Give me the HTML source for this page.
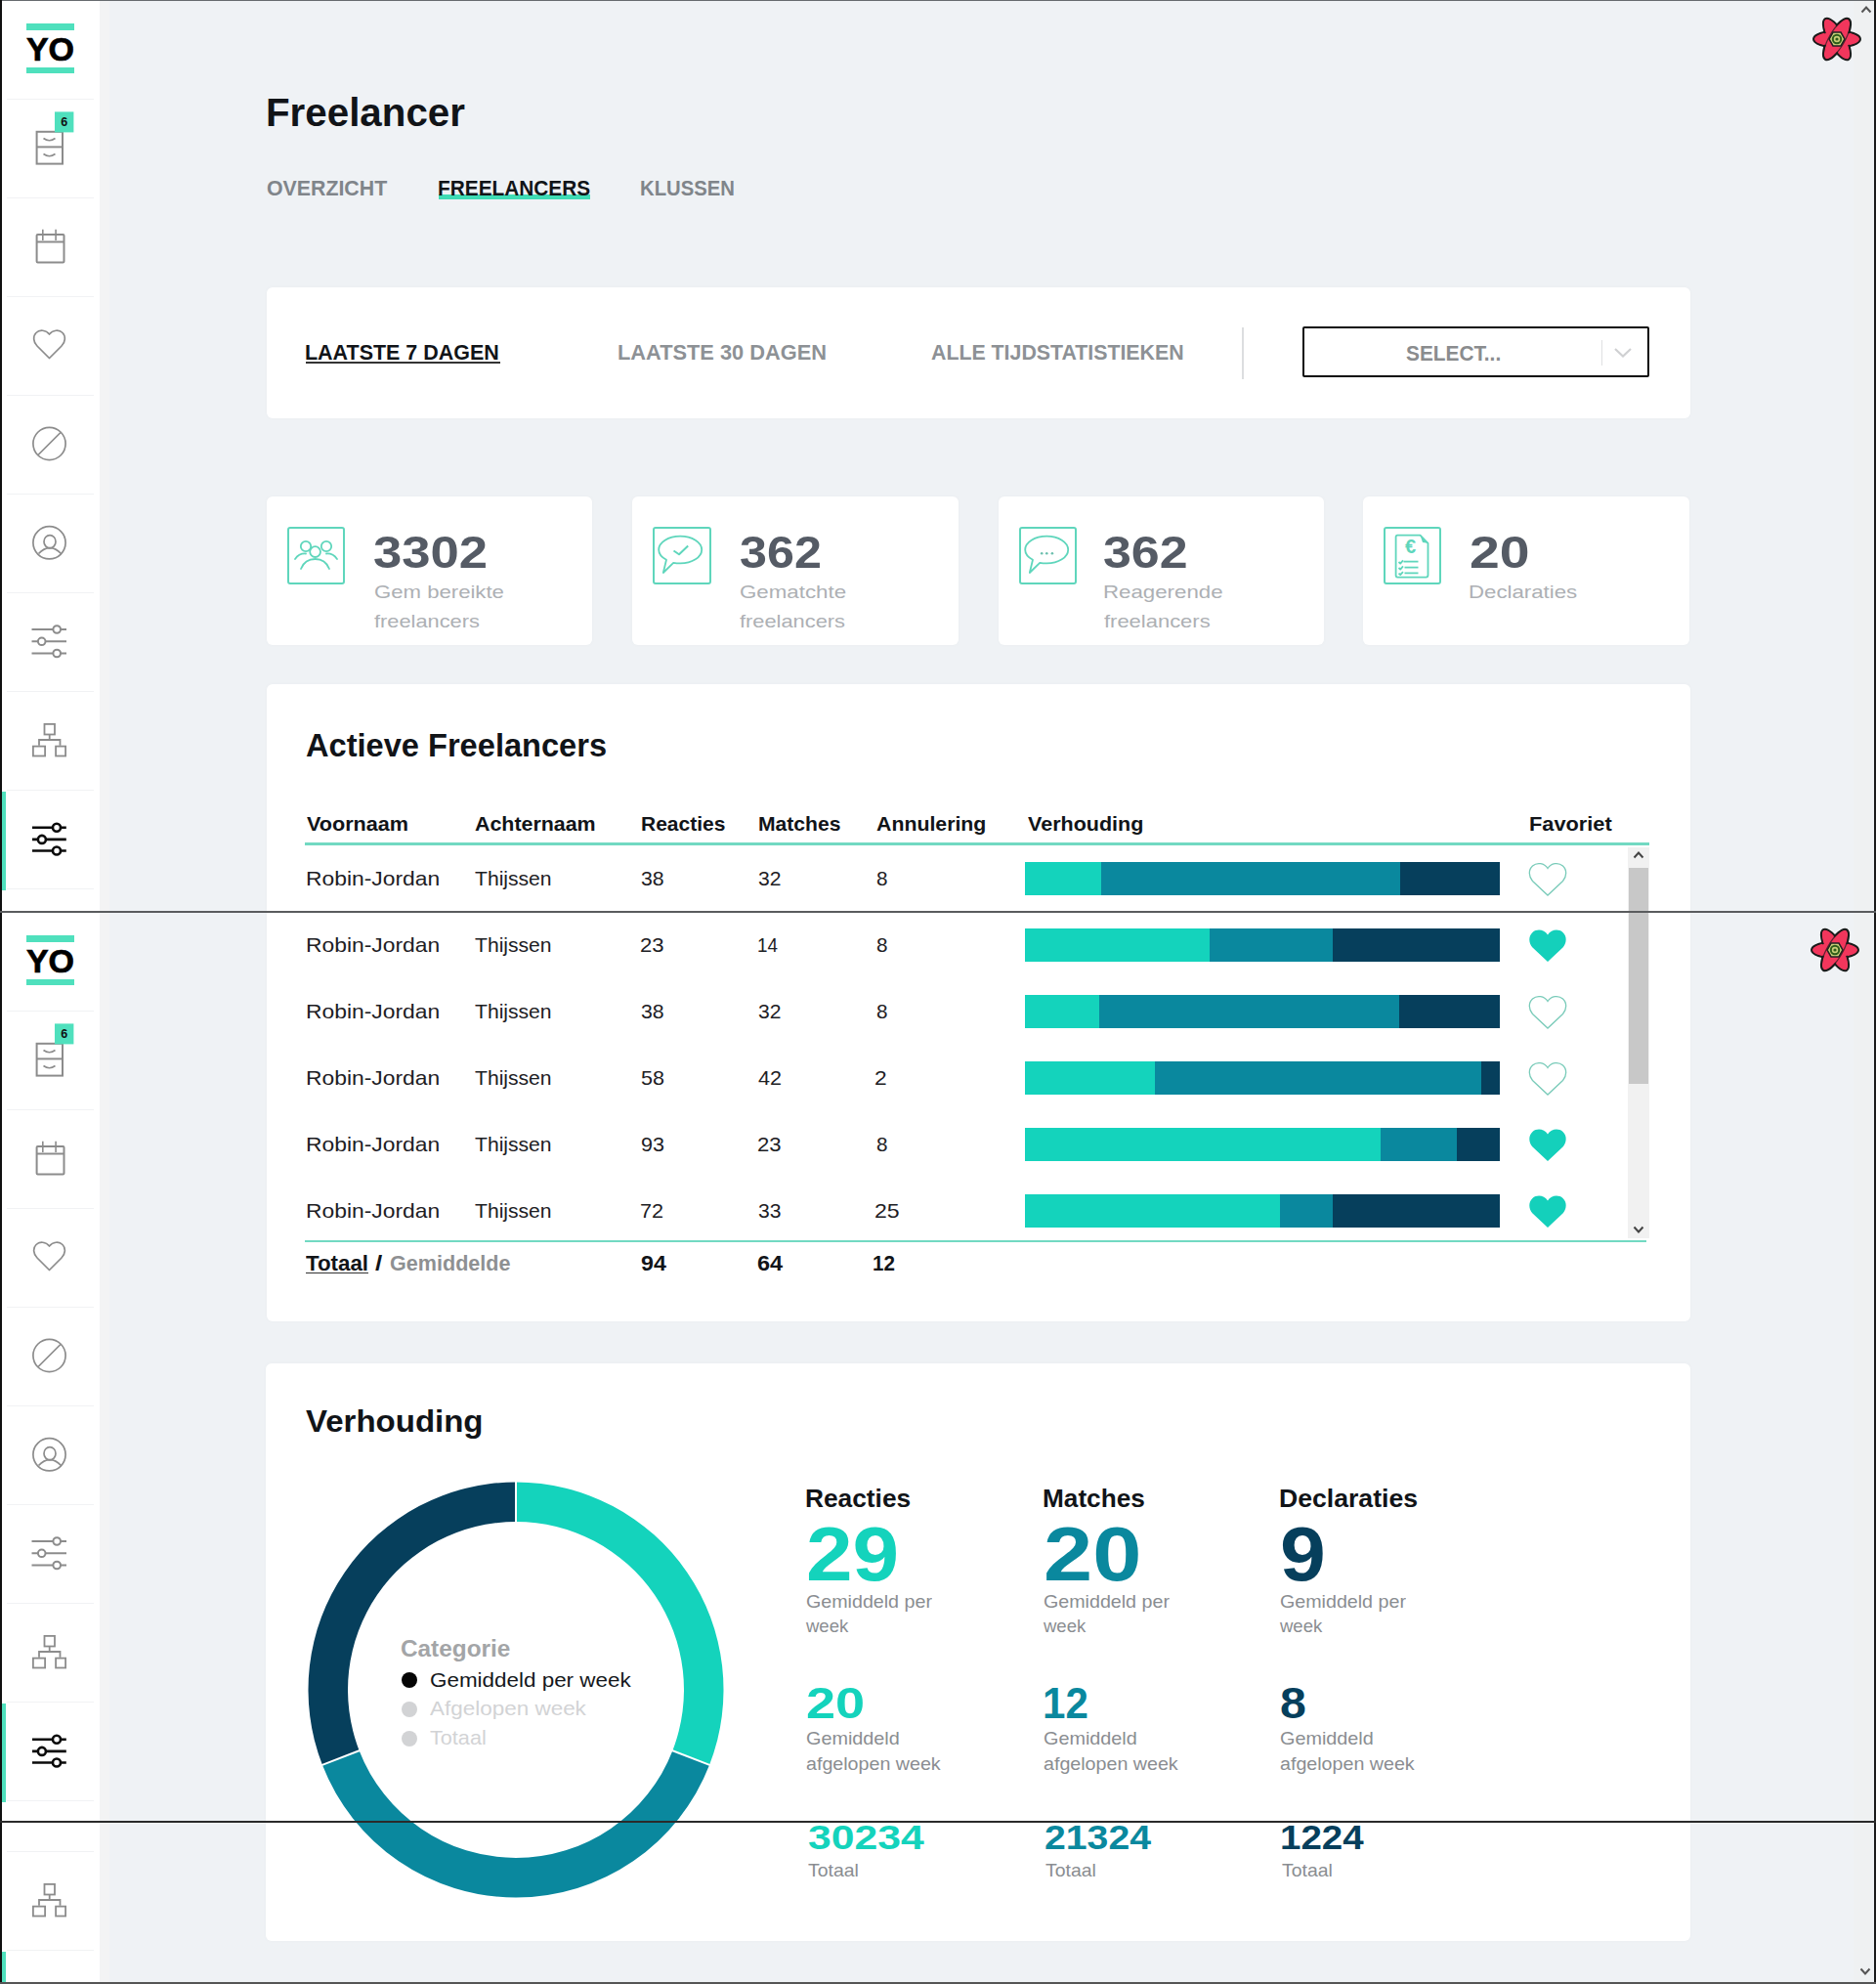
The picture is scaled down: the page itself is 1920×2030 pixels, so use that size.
<!DOCTYPE html>
<html><head><meta charset="utf-8"><style>
html,body{margin:0;padding:0}
body{width:1920px;height:2030px;position:relative;overflow:hidden;background:#eff2f5;font-family:'Liberation Sans', sans-serif}
.t{position:absolute;white-space:nowrap;line-height:1;transform-origin:0 0;font-family:'Liberation Sans', sans-serif}
.sb{position:absolute;left:0;top:0;width:101.5px;height:940px;background:#fff}
.card{position:absolute;background:#fff;border-radius:6px;box-shadow:0 0 5px rgba(0,0,0,0.025)}
.ln{position:absolute}
</style></head><body>
<div class="card" style="left:272.5px;top:293.5px;width:1457px;height:134px"></div>
<div class="card" style="left:272.6px;top:507.8px;width:333.7px;height:152px"></div>
<div class="card" style="left:647.4px;top:507.8px;width:333.7px;height:152px"></div>
<div class="card" style="left:1021.7px;top:507.8px;width:333.7px;height:152px"></div>
<div class="card" style="left:1395.3px;top:507.8px;width:333.7px;height:152px"></div>
<div class="card" style="left:272.5px;top:700px;width:1457px;height:651.6px"></div>
<div class="card" style="left:272px;top:1394.8px;width:1457.5px;height:591.2px"></div>
<div class="ln" style="left:449px;top:199px;width:155px;height:5px;background:#3fdcb5"></div>
<div class="ln" style="left:313px;top:370px;width:199px;height:1.6px;background:#333"></div>
<div class="ln" style="left:1271px;top:334.6px;width:2px;height:53px;background:#dcdee0"></div>
<div class="ln" style="left:1333.2px;top:334.2px;width:350.4px;height:47.8px;border:2.4px solid #0d0d0d;border-radius:2px;background:#fff"></div>
<div class="ln" style="left:1638.5px;top:348px;width:1px;height:25.6px;background:#dfe0e2"></div>
<svg style="position:absolute;left:1650px;top:354px" width="22" height="14" viewBox="0 0 22 14"><path d="M3 3 L11 10.5 L19 3" fill="none" stroke="#cfd0d2" stroke-width="2.2"/></svg>
<div style="position:absolute;left:293.6px;top:539.3px;width:55.2px;height:55.2px;border:2px solid #5fd6bc;border-radius:3px"></div>
<div style="position:absolute;left:668.4px;top:539.3px;width:55.2px;height:55.2px;border:2px solid #5fd6bc;border-radius:3px"></div>
<div style="position:absolute;left:1042.7px;top:539.3px;width:55.2px;height:55.2px;border:2px solid #5fd6bc;border-radius:3px"></div>
<div style="position:absolute;left:1416.3px;top:539.3px;width:55.2px;height:55.2px;border:2px solid #5fd6bc;border-radius:3px"></div>
<svg style="position:absolute;left:293.6px;top:539.3px" width="59.2" height="59.2" viewBox="0 0 59.2 59.2"><g fill="none" stroke="#5fd6bc" stroke-width="1.8" stroke-linecap="round">
<circle cx="19" cy="20" r="5.2"/><circle cx="40" cy="20" r="5.2"/><circle cx="28.6" cy="25.6" r="5.4"/>
<path d="M8 33 Q12 27 19 27.5"/><path d="M51 33 Q47 27 40 27.5"/>
<path d="M14 43 Q18 33 28.6 33 Q39 33 43 43"/></g></svg>
<svg style="position:absolute;left:668.4px;top:539.3px" width="59.2" height="59.2" viewBox="0 0 59.2 59.2"><g fill="none" stroke="#5fd6bc" stroke-width="1.8" stroke-linejoin="round"><path d="M28.2 9.6 C40.4 9.6 50.2 15.8 50.2 23.5 C50.2 31.2 40.4 37.4 28.2 37.4 C25.8 37.4 23.4 37.2 21.2 36.8 L10.8 47 L14 33.8 C9.3 31.3 6.2 27.6 6.2 23.5 C6.2 15.8 16 9.6 28.2 9.6 Z"/><path d="M21.5 24.5 L27 28.3 L36.2 19.5" stroke-width="2"/></g></svg>
<svg style="position:absolute;left:1042.7px;top:539.3px" width="59.2" height="59.2" viewBox="0 0 59.2 59.2"><g fill="none" stroke="#5fd6bc" stroke-width="1.8" stroke-linejoin="round"><path d="M28.2 9.6 C40.4 9.6 50.2 15.8 50.2 23.5 C50.2 31.2 40.4 37.4 28.2 37.4 C25.8 37.4 23.4 37.2 21.2 36.8 L10.8 47 L14 33.8 C9.3 31.3 6.2 27.6 6.2 23.5 C6.2 15.8 16 9.6 28.2 9.6 Z"/></g><g fill="#6cbfae"><circle cx="23.2" cy="27.2" r="1.3"/><circle cx="28.3" cy="27.2" r="1.3"/><circle cx="33.9" cy="27.2" r="1.3"/></g></svg>
<svg style="position:absolute;left:1416.3px;top:539.3px" width="59.2" height="59.2" viewBox="0 0 59.2 59.2"><g fill="none" stroke="#5fd6bc" stroke-width="1.8" stroke-linejoin="round">
<path d="M14.3 8.6 H37.5 L45.5 16.8 V49.6 Q45.5 51.6 43.5 51.6 H14.3 Q12.6 51.6 12.6 49.6 V10.6 Q12.6 8.6 14.3 8.6 Z"/>
<line x1="20.5" y1="35.6" x2="35.5" y2="35.6"/><line x1="21.5" y1="41.6" x2="35.5" y2="41.6"/><line x1="21.5" y1="47.4" x2="35.5" y2="47.4"/>
<path d="M15.5 36 L17.2 37.6 L20 34.4"/><path d="M15.5 42 L17.2 43.6 L20 40.4"/><path d="M15.5 47.6 L17.2 49 L20 46.2"/></g>
<path d="M37.5 8.6 L45.5 16.8 L40 16 Z" fill="#5fd6bc"/>
<text x="27.6" y="27.2" font-family="Liberation Sans" font-weight="bold" font-size="20" text-anchor="middle" fill="#5fd6bc">€</text></svg><div class="ln" style="left:312px;top:862.4px;width:1375.5px;height:2.4px;background:#72d9c2"></div>
<div class="ln" style="left:312px;top:1269px;width:1373px;height:1.8px;background:#72d9c2"></div>
<div class="ln" style="left:313px;top:1301.5px;width:64px;height:1.2px;background:#333"></div>
<div style="position:absolute;left:1048.8px;top:882px;width:78.5px;height:34px;background:#14d3bc"></div>
<div style="position:absolute;left:1127.3px;top:882px;width:305.7px;height:34px;background:#0a889e"></div>
<div style="position:absolute;left:1433.0px;top:882px;width:102.0px;height:34px;background:#063f5c"></div>
<svg style="position:absolute;left:1564px;top:882px" width="40" height="35" viewBox="0 0 40 35"><path d="M20 6.5 C16.5 1 9 0 4.5 4 C0 8 0.5 15 4.5 19.5 L20 34 L35.5 19.5 C39.5 15 40 8 35.5 4 C31 0 23.5 1 20 6.5 Z" fill="none" stroke="#79cbb9" stroke-width="1.3"/></svg>
<div style="position:absolute;left:1048.8px;top:950px;width:188.9px;height:34px;background:#14d3bc"></div>
<div style="position:absolute;left:1237.7px;top:950px;width:126.5px;height:34px;background:#0a889e"></div>
<div style="position:absolute;left:1364.2px;top:950px;width:170.8px;height:34px;background:#063f5c"></div>
<svg style="position:absolute;left:1564px;top:950px" width="40" height="35" viewBox="0 0 40 35"><path d="M20 6.5 C16.5 1 9 0 4.5 4 C0 8 0.5 15 4.5 19.5 L20 34 L35.5 19.5 C39.5 15 40 8 35.5 4 C31 0 23.5 1 20 6.5 Z" fill="#14d0bb"/></svg>
<div style="position:absolute;left:1048.8px;top:1018px;width:76.2px;height:34px;background:#14d3bc"></div>
<div style="position:absolute;left:1125.0px;top:1018px;width:306.6px;height:34px;background:#0a889e"></div>
<div style="position:absolute;left:1431.6px;top:1018px;width:103.4px;height:34px;background:#063f5c"></div>
<svg style="position:absolute;left:1564px;top:1018px" width="40" height="35" viewBox="0 0 40 35"><path d="M20 6.5 C16.5 1 9 0 4.5 4 C0 8 0.5 15 4.5 19.5 L20 34 L35.5 19.5 C39.5 15 40 8 35.5 4 C31 0 23.5 1 20 6.5 Z" fill="none" stroke="#79cbb9" stroke-width="1.3"/></svg>
<div style="position:absolute;left:1048.8px;top:1086px;width:133.4px;height:34px;background:#14d3bc"></div>
<div style="position:absolute;left:1182.2px;top:1086px;width:334.2px;height:34px;background:#0a889e"></div>
<div style="position:absolute;left:1516.4px;top:1086px;width:18.6px;height:34px;background:#063f5c"></div>
<svg style="position:absolute;left:1564px;top:1086px" width="40" height="35" viewBox="0 0 40 35"><path d="M20 6.5 C16.5 1 9 0 4.5 4 C0 8 0.5 15 4.5 19.5 L20 34 L35.5 19.5 C39.5 15 40 8 35.5 4 C31 0 23.5 1 20 6.5 Z" fill="none" stroke="#79cbb9" stroke-width="1.3"/></svg>
<div style="position:absolute;left:1048.8px;top:1154px;width:364.2px;height:34px;background:#14d3bc"></div>
<div style="position:absolute;left:1413.0px;top:1154px;width:78.4px;height:34px;background:#0a889e"></div>
<div style="position:absolute;left:1491.4px;top:1154px;width:43.6px;height:34px;background:#063f5c"></div>
<svg style="position:absolute;left:1564px;top:1154px" width="40" height="35" viewBox="0 0 40 35"><path d="M20 6.5 C16.5 1 9 0 4.5 4 C0 8 0.5 15 4.5 19.5 L20 34 L35.5 19.5 C39.5 15 40 8 35.5 4 C31 0 23.5 1 20 6.5 Z" fill="#14d0bb"/></svg>
<div style="position:absolute;left:1048.8px;top:1222px;width:261.4px;height:34px;background:#14d3bc"></div>
<div style="position:absolute;left:1310.2px;top:1222px;width:54.0px;height:34px;background:#0a889e"></div>
<div style="position:absolute;left:1364.2px;top:1222px;width:170.8px;height:34px;background:#063f5c"></div>
<svg style="position:absolute;left:1564px;top:1222px" width="40" height="35" viewBox="0 0 40 35"><path d="M20 6.5 C16.5 1 9 0 4.5 4 C0 8 0.5 15 4.5 19.5 L20 34 L35.5 19.5 C39.5 15 40 8 35.5 4 C31 0 23.5 1 20 6.5 Z" fill="#14d0bb"/></svg><div class="ln" style="left:1666px;top:867px;width:21.5px;height:400px;background:#f1f1f1"></div>
<div class="ln" style="left:1667px;top:887.5px;width:20px;height:221px;background:#c8c8c8"></div>
<svg style="position:absolute;left:1670px;top:869px" width="14" height="12" viewBox="0 0 14 12"><path d="M2.5 8.5 L7 3.5 L11.5 8.5" fill="none" stroke="#444" stroke-width="2"/></svg>
<svg style="position:absolute;left:1670px;top:1252px" width="14" height="12" viewBox="0 0 14 12"><path d="M2.5 3.5 L7 8.5 L11.5 3.5" fill="none" stroke="#444" stroke-width="2"/></svg>
<svg style="position:absolute;left:307.7px;top:1508.6px" width="440" height="440" viewBox="-220 -220 440 440"><path d="M0.00 -212.50 A212.5 212.5 0 0 1 198.12 76.85 L160.36 62.20 A172.0 172.0 0 0 0 0.00 -172.00 Z" fill="#14d3bc"/><path d="M198.12 76.85 A212.5 212.5 0 0 1 -198.12 76.85 L-160.36 62.20 A172.0 172.0 0 0 0 160.36 62.20 Z" fill="#0a889e"/><path d="M-198.12 76.85 A212.5 212.5 0 0 1 -0.00 -212.50 L-0.00 -172.00 A172.0 172.0 0 0 0 -160.36 62.20 Z" fill="#063f5c"/><line x1="0.00" y1="-168.56" x2="0.00" y2="-216.75" stroke="#fff" stroke-width="2"/><line x1="157.15" y1="60.96" x2="202.08" y2="78.38" stroke="#fff" stroke-width="2"/><line x1="-157.15" y1="60.96" x2="-202.08" y2="78.38" stroke="#fff" stroke-width="2"/></svg><div style="position:absolute;left:411px;top:1711.0px;width:16px;height:16px;border-radius:50%;background:#050505"></div><div style="position:absolute;left:411px;top:1741.0px;width:16px;height:16px;border-radius:50%;background:#d2d3d5"></div><div style="position:absolute;left:411px;top:1770.8px;width:16px;height:16px;border-radius:50%;background:#d2d3d5"></div><span class="t" style="left:271.99px;top:94.60px;font-size:40.116px;font-weight:bold;color:#111418;transform:scaleX(1.0050);">Freelancer</span>
<span class="t" style="left:273.40px;top:182.00px;font-size:22.093px;font-weight:bold;color:#80858a;transform:scaleX(0.9656);">OVERZICHT</span>
<span class="t" style="left:448.06px;top:182.00px;font-size:22.093px;font-weight:bold;color:#111418;transform:scaleX(0.9427);">FREELANCERS</span>
<span class="t" style="left:654.78px;top:182.00px;font-size:22.093px;font-weight:bold;color:#80858a;transform:scaleX(0.9183);">KLUSSEN</span>
<span class="t" style="left:312.44px;top:350.30px;font-size:22.384px;font-weight:bold;color:#111418;transform:scaleX(0.9592);">LAATSTE 7 DAGEN</span>
<span class="t" style="left:631.73px;top:350.40px;font-size:22.384px;font-weight:bold;color:#8d9195;transform:scaleX(0.9739);">LAATSTE 30 DAGEN</span>
<span class="t" style="left:952.80px;top:350.40px;font-size:22.384px;font-weight:bold;color:#8d9195;transform:scaleX(0.9528);">ALLE TIJDSTATISTIEKEN</span>
<span class="t" style="left:1439.40px;top:350.60px;font-size:22.093px;font-weight:bold;color:#8a8c8e;transform:scaleX(0.9431);">SELECT...</span>
<span class="t" style="left:382.17px;top:542.00px;font-size:46.512px;font-weight:bold;color:#555b65;transform:scaleX(1.1317);">3302</span>
<span class="t" style="left:382.80px;top:595.50px;font-size:19.186px;color:#adb0b4;transform:scaleX(1.1548);">Gem bereikte</span>
<span class="t" style="left:382.80px;top:626.00px;font-size:19.186px;color:#adb0b4;transform:scaleX(1.1368);">freelancers</span>
<span class="t" style="left:756.72px;top:542.00px;font-size:46.512px;font-weight:bold;color:#555b65;transform:scaleX(1.0803);">362</span>
<span class="t" style="left:757.30px;top:595.50px;font-size:19.186px;color:#adb0b4;transform:scaleX(1.1634);">Gematchte</span>
<span class="t" style="left:757.30px;top:626.00px;font-size:19.186px;color:#adb0b4;transform:scaleX(1.1389);">freelancers</span>
<span class="t" style="left:1129.08px;top:542.00px;font-size:46.512px;font-weight:bold;color:#555b65;transform:scaleX(1.1158);">362</span>
<span class="t" style="left:1128.54px;top:595.50px;font-size:19.186px;color:#adb0b4;transform:scaleX(1.1615);">Reagerende</span>
<span class="t" style="left:1129.70px;top:626.00px;font-size:19.186px;color:#adb0b4;transform:scaleX(1.1453);">freelancers</span>
<span class="t" style="left:1503.81px;top:542.00px;font-size:46.512px;font-weight:bold;color:#555b65;transform:scaleX(1.1898);">20</span>
<span class="t" style="left:1503.34px;top:595.50px;font-size:19.186px;color:#adb0b4;transform:scaleX(1.1589);">Declaraties</span>
<span class="t" style="left:312.69px;top:746.70px;font-size:32.413px;font-weight:bold;color:#111418;transform:scaleX(1.0059);">Actieve Freelancers</span>
<span class="t" style="left:314.00px;top:832.90px;font-size:20.640px;font-weight:bold;color:#111418;transform:scaleX(1.0475);">Voornaam</span>
<span class="t" style="left:485.60px;top:832.90px;font-size:20.640px;font-weight:bold;color:#111418;transform:scaleX(1.0370);">Achternaam</span>
<span class="t" style="left:656.18px;top:832.90px;font-size:20.640px;font-weight:bold;color:#111418;transform:scaleX(1.0179);">Reacties</span>
<span class="t" style="left:776.18px;top:832.90px;font-size:20.640px;font-weight:bold;color:#111418;transform:scaleX(1.0222);">Matches</span>
<span class="t" style="left:897.30px;top:832.90px;font-size:20.640px;font-weight:bold;color:#111418;transform:scaleX(1.0324);">Annulering</span>
<span class="t" style="left:1052.30px;top:832.90px;font-size:20.640px;font-weight:bold;color:#111418;transform:scaleX(1.0434);">Verhouding</span>
<span class="t" style="left:1564.94px;top:832.90px;font-size:20.640px;font-weight:bold;color:#111418;transform:scaleX(1.0562);">Favoriet</span>
<span class="t" style="left:312.84px;top:889.80px;font-size:19.767px;color:#1d2024;transform:scaleX(1.1564);">Robin-Jordan</span>
<span class="t" style="left:485.60px;top:889.80px;font-size:19.767px;color:#1d2024;transform:scaleX(1.0685);">Thijssen</span>
<span class="t" style="left:656.30px;top:889.80px;font-size:19.767px;color:#1d2024;transform:scaleX(1.0773);">38</span>
<span class="t" style="left:776.30px;top:889.80px;font-size:19.767px;color:#1d2024;transform:scaleX(1.0682);">32</span>
<span class="t" style="left:896.50px;top:889.80px;font-size:19.767px;color:#1d2024;transform:scaleX(1.0455);">8</span>
<span class="t" style="left:312.84px;top:957.80px;font-size:19.767px;color:#1d2024;transform:scaleX(1.1564);">Robin-Jordan</span>
<span class="t" style="left:485.60px;top:957.80px;font-size:19.767px;color:#1d2024;transform:scaleX(1.0685);">Thijssen</span>
<span class="t" style="left:655.18px;top:957.80px;font-size:19.767px;color:#1d2024;transform:scaleX(1.1190);">23</span>
<span class="t" style="left:775.35px;top:957.80px;font-size:19.767px;color:#1d2024;transform:scaleX(0.9524);">14</span>
<span class="t" style="left:896.50px;top:957.80px;font-size:19.767px;color:#1d2024;transform:scaleX(1.0455);">8</span>
<span class="t" style="left:312.84px;top:1025.80px;font-size:19.767px;color:#1d2024;transform:scaleX(1.1564);">Robin-Jordan</span>
<span class="t" style="left:485.60px;top:1025.80px;font-size:19.767px;color:#1d2024;transform:scaleX(1.0685);">Thijssen</span>
<span class="t" style="left:656.30px;top:1025.80px;font-size:19.767px;color:#1d2024;transform:scaleX(1.0773);">38</span>
<span class="t" style="left:776.30px;top:1025.80px;font-size:19.767px;color:#1d2024;transform:scaleX(1.0682);">32</span>
<span class="t" style="left:896.50px;top:1025.80px;font-size:19.767px;color:#1d2024;transform:scaleX(1.0455);">8</span>
<span class="t" style="left:312.84px;top:1093.80px;font-size:19.767px;color:#1d2024;transform:scaleX(1.1564);">Robin-Jordan</span>
<span class="t" style="left:485.60px;top:1093.80px;font-size:19.767px;color:#1d2024;transform:scaleX(1.0685);">Thijssen</span>
<span class="t" style="left:656.30px;top:1093.80px;font-size:19.767px;color:#1d2024;transform:scaleX(1.0909);">58</span>
<span class="t" style="left:776.30px;top:1093.80px;font-size:19.767px;color:#1d2024;transform:scaleX(1.0909);">42</span>
<span class="t" style="left:895.35px;top:1093.80px;font-size:19.767px;color:#1d2024;transform:scaleX(1.1500);">2</span>
<span class="t" style="left:312.84px;top:1161.80px;font-size:19.767px;color:#1d2024;transform:scaleX(1.1564);">Robin-Jordan</span>
<span class="t" style="left:485.60px;top:1161.80px;font-size:19.767px;color:#1d2024;transform:scaleX(1.0685);">Thijssen</span>
<span class="t" style="left:656.30px;top:1161.80px;font-size:19.767px;color:#1d2024;transform:scaleX(1.0909);">93</span>
<span class="t" style="left:775.18px;top:1161.80px;font-size:19.767px;color:#1d2024;transform:scaleX(1.1190);">23</span>
<span class="t" style="left:896.50px;top:1161.80px;font-size:19.767px;color:#1d2024;transform:scaleX(1.0455);">8</span>
<span class="t" style="left:312.84px;top:1229.80px;font-size:19.767px;color:#1d2024;transform:scaleX(1.1564);">Robin-Jordan</span>
<span class="t" style="left:485.60px;top:1229.80px;font-size:19.767px;color:#1d2024;transform:scaleX(1.0685);">Thijssen</span>
<span class="t" style="left:655.20px;top:1229.80px;font-size:19.767px;color:#1d2024;transform:scaleX(1.0952);">72</span>
<span class="t" style="left:776.30px;top:1229.80px;font-size:19.767px;color:#1d2024;transform:scaleX(1.0682);">33</span>
<span class="t" style="left:895.33px;top:1229.80px;font-size:19.767px;color:#1d2024;transform:scaleX(1.1667);">25</span>
<span class="t" style="left:313.00px;top:1282.20px;font-size:22.384px;font-weight:bold;color:#111418;transform:scaleX(0.9969);">Totaal</span>
<span class="t" style="left:383.50px;top:1282.20px;font-size:22.384px;font-weight:bold;color:#111418;transform:scaleX(1.1667);">/</span>
<span class="t" style="left:399.00px;top:1282.20px;font-size:22.384px;font-weight:bold;color:#8e9092;transform:scaleX(0.9641);">Gemiddelde</span>
<span class="t" style="left:655.50px;top:1282.20px;font-size:22.384px;font-weight:bold;color:#111418;transform:scaleX(1.0360);">94</span>
<span class="t" style="left:775.30px;top:1282.20px;font-size:22.384px;font-weight:bold;color:#111418;transform:scaleX(1.0480);">64</span>
<span class="t" style="left:892.78px;top:1282.20px;font-size:22.384px;font-weight:bold;color:#111418;transform:scaleX(0.9208);">12</span>
<span class="t" style="left:313.30px;top:1439.30px;font-size:31.395px;font-weight:bold;color:#111418;transform:scaleX(1.0520);">Verhouding</span>
<span class="t" style="left:410.30px;top:1675.00px;font-size:23.983px;font-weight:bold;color:#a3a5a7;transform:scaleX(1.0155);">Categorie</span>
<span class="t" style="left:440.30px;top:1708.60px;font-size:20.640px;color:#15181c;transform:scaleX(1.0873);">Gemiddeld per week</span>
<span class="t" style="left:440.30px;top:1738.40px;font-size:20.640px;color:#d2d3d5;transform:scaleX(1.0891);">Afgelopen week</span>
<span class="t" style="left:440.30px;top:1768.00px;font-size:20.640px;color:#d2d3d5;transform:scaleX(1.0491);">Totaal</span>
<span class="t" style="left:824.34px;top:1521.70px;font-size:24.855px;font-weight:bold;color:#111418;transform:scaleX(1.0584);">Reacties</span>
<span class="t" style="left:824.99px;top:1551.70px;font-size:77.471px;font-weight:bold;color:#14d3bc;transform:scaleX(1.1049);">29</span>
<span class="t" style="left:825.00px;top:1630.00px;font-size:18.459px;color:#8a8d91;transform:scaleX(1.0661);">Gemiddeld per</span>
<span class="t" style="left:825.00px;top:1654.60px;font-size:18.314px;color:#8a8d91;transform:scaleX(1.0116);">week</span>
<span class="t" style="left:824.79px;top:1720.00px;font-size:44.767px;font-weight:bold;color:#14d3bc;transform:scaleX(1.2083);">20</span>
<span class="t" style="left:825.00px;top:1769.00px;font-size:19.186px;color:#8a8d91;transform:scaleX(1.0326);">Gemiddeld</span>
<span class="t" style="left:825.00px;top:1795.50px;font-size:18.895px;color:#8a8d91;transform:scaleX(1.0409);">afgelopen week</span>
<span class="t" style="left:827.00px;top:1863.00px;font-size:35.610px;font-weight:bold;color:#14d3bc;transform:scaleX(1.1980);">30234</span>
<span class="t" style="left:827.00px;top:1904.40px;font-size:19.041px;color:#8a8d91;transform:scaleX(1.0200);">Totaal</span>
<span class="t" style="left:1067.15px;top:1521.70px;font-size:24.855px;font-weight:bold;color:#111418;transform:scaleX(1.0541);">Matches</span>
<span class="t" style="left:1067.67px;top:1551.70px;font-size:77.471px;font-weight:bold;color:#0a889e;transform:scaleX(1.1642);">20</span>
<span class="t" style="left:1067.80px;top:1630.00px;font-size:18.459px;color:#8a8d91;transform:scaleX(1.0661);">Gemiddeld per</span>
<span class="t" style="left:1067.80px;top:1654.60px;font-size:18.314px;color:#8a8d91;transform:scaleX(1.0116);">week</span>
<span class="t" style="left:1066.92px;top:1720.00px;font-size:44.767px;font-weight:bold;color:#0a889e;transform:scaleX(0.9404);">12</span>
<span class="t" style="left:1067.80px;top:1769.00px;font-size:19.186px;color:#8a8d91;transform:scaleX(1.0326);">Gemiddeld</span>
<span class="t" style="left:1067.80px;top:1795.50px;font-size:18.895px;color:#8a8d91;transform:scaleX(1.0409);">afgelopen week</span>
<span class="t" style="left:1068.70px;top:1863.00px;font-size:35.610px;font-weight:bold;color:#0a889e;transform:scaleX(1.1010);">21324</span>
<span class="t" style="left:1069.80px;top:1904.40px;font-size:19.041px;color:#8a8d91;transform:scaleX(1.0200);">Totaal</span>
<span class="t" style="left:1309.23px;top:1521.70px;font-size:24.855px;font-weight:bold;color:#111418;transform:scaleX(1.0710);">Declaraties</span>
<span class="t" style="left:1309.93px;top:1551.70px;font-size:77.471px;font-weight:bold;color:#063f5c;transform:scaleX(1.0872);">9</span>
<span class="t" style="left:1309.90px;top:1630.00px;font-size:18.459px;color:#8a8d91;transform:scaleX(1.0661);">Gemiddeld per</span>
<span class="t" style="left:1309.90px;top:1654.60px;font-size:18.314px;color:#8a8d91;transform:scaleX(1.0116);">week</span>
<span class="t" style="left:1309.82px;top:1720.00px;font-size:44.767px;font-weight:bold;color:#063f5c;transform:scaleX(1.0783);">8</span>
<span class="t" style="left:1309.90px;top:1769.00px;font-size:19.186px;color:#8a8d91;transform:scaleX(1.0326);">Gemiddeld</span>
<span class="t" style="left:1309.90px;top:1795.50px;font-size:18.895px;color:#8a8d91;transform:scaleX(1.0409);">afgelopen week</span>
<span class="t" style="left:1309.74px;top:1863.00px;font-size:35.610px;font-weight:bold;color:#063f5c;transform:scaleX(1.0808);">1224</span>
<span class="t" style="left:1311.90px;top:1904.40px;font-size:19.041px;color:#8a8d91;transform:scaleX(1.0200);">Totaal</span><div class="ln" style="left:1897px;top:0;width:20px;height:2030px;background:#f0f0f0;opacity:0.5"></div>
<div class="ln" style="left:101px;top:0;width:11px;height:2030px;background:#f3f3f4"></div>
<div style="position:absolute;left:0;top:1px;width:110px;height:931px;overflow:hidden"><div style="position:absolute;left:0;top:-1px;width:110px;height:940px"><div class="sb">
<div style="position:absolute;left:27px;top:24px;width:49px;height:7px;background:#4fe0bd"></div>
<div style="position:absolute;left:27px;top:69px;width:49px;height:6px;background:#4fe0bd"></div>
<span class="t" style="left:27px;top:32.8px;font-size:34px;font-weight:bold;color:#000;letter-spacing:-0.3px;-webkit-text-stroke:0.7px #000">YO</span>
<div style="position:absolute;left:7px;top:101px;width:89px;height:1px;background:#f1f2f4"></div>
<div style="position:absolute;left:7px;top:202px;width:89px;height:1px;background:#f1f2f4"></div>
<div style="position:absolute;left:7px;top:303px;width:89px;height:1px;background:#f1f2f4"></div>
<div style="position:absolute;left:7px;top:404px;width:89px;height:1px;background:#f1f2f4"></div>
<div style="position:absolute;left:7px;top:505px;width:89px;height:1px;background:#f1f2f4"></div>
<div style="position:absolute;left:7px;top:606px;width:89px;height:1px;background:#f1f2f4"></div>
<div style="position:absolute;left:7px;top:707px;width:89px;height:1px;background:#f1f2f4"></div>
<div style="position:absolute;left:7px;top:808px;width:89px;height:1px;background:#f1f2f4"></div>
<div style="position:absolute;left:7px;top:909px;width:89px;height:1px;background:#f1f2f4"></div>
<svg style="position:absolute;left:0;top:101px" width="100" height="101" viewBox="0 0 100 101"><rect x="37.6" y="33.8" width="26.4" height="32.8" fill="none" stroke="#8c8c8c" stroke-width="2"/>
<line x1="37.6" y1="49.4" x2="64" y2="49.4" stroke="#8c8c8c" stroke-width="2"/>
<path d="M44.5 40.5 Q50.5 45 56.5 40.5" fill="none" stroke="#8c8c8c" stroke-width="1.6"/>
<path d="M44.5 56.5 Q50.5 61 56.5 56.5" fill="none" stroke="#8c8c8c" stroke-width="1.6"/>
<rect x="56" y="13.4" width="19.4" height="21" fill="#4fe0bd"/>
<text x="65.7" y="28.3" font-family="Liberation Sans" font-weight="bold" font-size="12.5" text-anchor="middle" fill="#111">6</text></svg>
<svg style="position:absolute;left:0;top:202px" width="100" height="101" viewBox="0 0 100 101"><rect x="37.6" y="38" width="27.9" height="28.6" rx="1" fill="none" stroke="#8c8c8c" stroke-width="2"/>
<line x1="37.6" y1="45.5" x2="65.5" y2="45.5" stroke="#8c8c8c" stroke-width="2"/>
<line x1="43.8" y1="32.7" x2="43.8" y2="44" stroke="#8c8c8c" stroke-width="1.6"/>
<line x1="57.1" y1="32.7" x2="57.1" y2="44" stroke="#8c8c8c" stroke-width="1.6"/></svg>
<svg style="position:absolute;left:0;top:303px" width="100" height="101" viewBox="0 0 100 101"><path d="M50.5 39 C47 34.5 40.5 34 37 37.5 C33.5 41 34 47 38 51 L50.5 63.5 L63 51 C67 47 67.5 41 64 37.5 C60.5 34 54 34.5 50.5 39 Z" fill="none" stroke="#8c8c8c" stroke-width="1.7" stroke-linejoin="round"/></svg>
<svg style="position:absolute;left:0;top:404px" width="100" height="101" viewBox="0 0 100 101"><circle cx="50.5" cy="50" r="16.6" fill="none" stroke="#8c8c8c" stroke-width="1.7"/>
<line x1="39" y1="61.5" x2="62" y2="38.5" stroke="#8c8c8c" stroke-width="1.7"/></svg>
<svg style="position:absolute;left:0;top:505px" width="100" height="101" viewBox="0 0 100 101"><circle cx="50.5" cy="50.3" r="16.6" fill="none" stroke="#8c8c8c" stroke-width="1.7"/>
<ellipse cx="51" cy="49.2" rx="6" ry="6.6" fill="none" stroke="#8c8c8c" stroke-width="1.7"/>
<path d="M39.5 61.5 Q45 55.5 51 55.6 Q57 55.5 62.5 61.5" fill="none" stroke="#8c8c8c" stroke-width="1.7"/></svg>
<svg style="position:absolute;left:0;top:606px" width="100" height="101" viewBox="0 0 100 101"><g stroke="#8c8c8c" stroke-width="2" fill="#fff">
<line x1="32.5" y1="38" x2="68" y2="38"/><line x1="32.5" y1="50.3" x2="68" y2="50.3"/><line x1="32.5" y1="62.5" x2="68" y2="62.5"/>
<circle cx="58.2" cy="38" r="3.8"/><circle cx="42.7" cy="50.3" r="3.8"/><circle cx="58.2" cy="62.5" r="3.8"/></g></svg>
<svg style="position:absolute;left:0;top:707px" width="100" height="101" viewBox="0 0 100 101"><g stroke="#8c8c8c" stroke-width="1.8" fill="none">
<rect x="45.5" y="33.9" width="10.5" height="10.6"/>
<line x1="50.7" y1="44.5" x2="50.7" y2="50"/>
<path d="M40 55.7 V50 H61.5 V55.7"/>
<rect x="33.9" y="56.6" width="12.2" height="9.9"/><rect x="57.1" y="56.6" width="10" height="9.9"/></g></svg>
<svg style="position:absolute;left:0;top:808px" width="100" height="101" viewBox="0 0 100 101"><g stroke="#0b0b0b" stroke-width="2.6" fill="#fff">
<line x1="33" y1="38.7" x2="67.8" y2="38.7"/><line x1="33" y1="50.9" x2="67.8" y2="50.9"/><line x1="33" y1="62.5" x2="67.8" y2="62.5"/>
<circle cx="58" cy="38.7" r="4"/><circle cx="42.9" cy="50.9" r="4"/><circle cx="58" cy="62.5" r="4"/></g></svg>
<div style="position:absolute;left:2px;top:809.5px;width:4px;height:101px;background:#4fe0bd"></div>
</div></div></div><div style="position:absolute;left:0;top:934px;width:110px;height:929px;overflow:hidden"><div style="position:absolute;left:0;top:-1px;width:110px;height:940px"><div class="sb">
<div style="position:absolute;left:27px;top:24px;width:49px;height:7px;background:#4fe0bd"></div>
<div style="position:absolute;left:27px;top:69px;width:49px;height:6px;background:#4fe0bd"></div>
<span class="t" style="left:27px;top:32.8px;font-size:34px;font-weight:bold;color:#000;letter-spacing:-0.3px;-webkit-text-stroke:0.7px #000">YO</span>
<div style="position:absolute;left:7px;top:101px;width:89px;height:1px;background:#f1f2f4"></div>
<div style="position:absolute;left:7px;top:202px;width:89px;height:1px;background:#f1f2f4"></div>
<div style="position:absolute;left:7px;top:303px;width:89px;height:1px;background:#f1f2f4"></div>
<div style="position:absolute;left:7px;top:404px;width:89px;height:1px;background:#f1f2f4"></div>
<div style="position:absolute;left:7px;top:505px;width:89px;height:1px;background:#f1f2f4"></div>
<div style="position:absolute;left:7px;top:606px;width:89px;height:1px;background:#f1f2f4"></div>
<div style="position:absolute;left:7px;top:707px;width:89px;height:1px;background:#f1f2f4"></div>
<div style="position:absolute;left:7px;top:808px;width:89px;height:1px;background:#f1f2f4"></div>
<div style="position:absolute;left:7px;top:909px;width:89px;height:1px;background:#f1f2f4"></div>
<svg style="position:absolute;left:0;top:101px" width="100" height="101" viewBox="0 0 100 101"><rect x="37.6" y="33.8" width="26.4" height="32.8" fill="none" stroke="#8c8c8c" stroke-width="2"/>
<line x1="37.6" y1="49.4" x2="64" y2="49.4" stroke="#8c8c8c" stroke-width="2"/>
<path d="M44.5 40.5 Q50.5 45 56.5 40.5" fill="none" stroke="#8c8c8c" stroke-width="1.6"/>
<path d="M44.5 56.5 Q50.5 61 56.5 56.5" fill="none" stroke="#8c8c8c" stroke-width="1.6"/>
<rect x="56" y="13.4" width="19.4" height="21" fill="#4fe0bd"/>
<text x="65.7" y="28.3" font-family="Liberation Sans" font-weight="bold" font-size="12.5" text-anchor="middle" fill="#111">6</text></svg>
<svg style="position:absolute;left:0;top:202px" width="100" height="101" viewBox="0 0 100 101"><rect x="37.6" y="38" width="27.9" height="28.6" rx="1" fill="none" stroke="#8c8c8c" stroke-width="2"/>
<line x1="37.6" y1="45.5" x2="65.5" y2="45.5" stroke="#8c8c8c" stroke-width="2"/>
<line x1="43.8" y1="32.7" x2="43.8" y2="44" stroke="#8c8c8c" stroke-width="1.6"/>
<line x1="57.1" y1="32.7" x2="57.1" y2="44" stroke="#8c8c8c" stroke-width="1.6"/></svg>
<svg style="position:absolute;left:0;top:303px" width="100" height="101" viewBox="0 0 100 101"><path d="M50.5 39 C47 34.5 40.5 34 37 37.5 C33.5 41 34 47 38 51 L50.5 63.5 L63 51 C67 47 67.5 41 64 37.5 C60.5 34 54 34.5 50.5 39 Z" fill="none" stroke="#8c8c8c" stroke-width="1.7" stroke-linejoin="round"/></svg>
<svg style="position:absolute;left:0;top:404px" width="100" height="101" viewBox="0 0 100 101"><circle cx="50.5" cy="50" r="16.6" fill="none" stroke="#8c8c8c" stroke-width="1.7"/>
<line x1="39" y1="61.5" x2="62" y2="38.5" stroke="#8c8c8c" stroke-width="1.7"/></svg>
<svg style="position:absolute;left:0;top:505px" width="100" height="101" viewBox="0 0 100 101"><circle cx="50.5" cy="50.3" r="16.6" fill="none" stroke="#8c8c8c" stroke-width="1.7"/>
<ellipse cx="51" cy="49.2" rx="6" ry="6.6" fill="none" stroke="#8c8c8c" stroke-width="1.7"/>
<path d="M39.5 61.5 Q45 55.5 51 55.6 Q57 55.5 62.5 61.5" fill="none" stroke="#8c8c8c" stroke-width="1.7"/></svg>
<svg style="position:absolute;left:0;top:606px" width="100" height="101" viewBox="0 0 100 101"><g stroke="#8c8c8c" stroke-width="2" fill="#fff">
<line x1="32.5" y1="38" x2="68" y2="38"/><line x1="32.5" y1="50.3" x2="68" y2="50.3"/><line x1="32.5" y1="62.5" x2="68" y2="62.5"/>
<circle cx="58.2" cy="38" r="3.8"/><circle cx="42.7" cy="50.3" r="3.8"/><circle cx="58.2" cy="62.5" r="3.8"/></g></svg>
<svg style="position:absolute;left:0;top:707px" width="100" height="101" viewBox="0 0 100 101"><g stroke="#8c8c8c" stroke-width="1.8" fill="none">
<rect x="45.5" y="33.9" width="10.5" height="10.6"/>
<line x1="50.7" y1="44.5" x2="50.7" y2="50"/>
<path d="M40 55.7 V50 H61.5 V55.7"/>
<rect x="33.9" y="56.6" width="12.2" height="9.9"/><rect x="57.1" y="56.6" width="10" height="9.9"/></g></svg>
<svg style="position:absolute;left:0;top:808px" width="100" height="101" viewBox="0 0 100 101"><g stroke="#0b0b0b" stroke-width="2.6" fill="#fff">
<line x1="33" y1="38.7" x2="67.8" y2="38.7"/><line x1="33" y1="50.9" x2="67.8" y2="50.9"/><line x1="33" y1="62.5" x2="67.8" y2="62.5"/>
<circle cx="58" cy="38.7" r="4"/><circle cx="42.9" cy="50.9" r="4"/><circle cx="58" cy="62.5" r="4"/></g></svg>
<div style="position:absolute;left:2px;top:809.5px;width:4px;height:101px;background:#4fe0bd"></div>
</div></div></div><div style="position:absolute;left:0;top:1865px;width:110px;height:163px;overflow:hidden"><div style="position:absolute;left:0;top:-678px;width:110px;height:940px"><div class="sb">
<div style="position:absolute;left:27px;top:24px;width:49px;height:7px;background:#4fe0bd"></div>
<div style="position:absolute;left:27px;top:69px;width:49px;height:6px;background:#4fe0bd"></div>
<span class="t" style="left:27px;top:32.8px;font-size:34px;font-weight:bold;color:#000;letter-spacing:-0.3px;-webkit-text-stroke:0.7px #000">YO</span>
<div style="position:absolute;left:7px;top:101px;width:89px;height:1px;background:#f1f2f4"></div>
<div style="position:absolute;left:7px;top:202px;width:89px;height:1px;background:#f1f2f4"></div>
<div style="position:absolute;left:7px;top:303px;width:89px;height:1px;background:#f1f2f4"></div>
<div style="position:absolute;left:7px;top:404px;width:89px;height:1px;background:#f1f2f4"></div>
<div style="position:absolute;left:7px;top:505px;width:89px;height:1px;background:#f1f2f4"></div>
<div style="position:absolute;left:7px;top:606px;width:89px;height:1px;background:#f1f2f4"></div>
<div style="position:absolute;left:7px;top:707px;width:89px;height:1px;background:#f1f2f4"></div>
<div style="position:absolute;left:7px;top:808px;width:89px;height:1px;background:#f1f2f4"></div>
<div style="position:absolute;left:7px;top:909px;width:89px;height:1px;background:#f1f2f4"></div>
<svg style="position:absolute;left:0;top:101px" width="100" height="101" viewBox="0 0 100 101"><rect x="37.6" y="33.8" width="26.4" height="32.8" fill="none" stroke="#8c8c8c" stroke-width="2"/>
<line x1="37.6" y1="49.4" x2="64" y2="49.4" stroke="#8c8c8c" stroke-width="2"/>
<path d="M44.5 40.5 Q50.5 45 56.5 40.5" fill="none" stroke="#8c8c8c" stroke-width="1.6"/>
<path d="M44.5 56.5 Q50.5 61 56.5 56.5" fill="none" stroke="#8c8c8c" stroke-width="1.6"/>
<rect x="56" y="13.4" width="19.4" height="21" fill="#4fe0bd"/>
<text x="65.7" y="28.3" font-family="Liberation Sans" font-weight="bold" font-size="12.5" text-anchor="middle" fill="#111">6</text></svg>
<svg style="position:absolute;left:0;top:202px" width="100" height="101" viewBox="0 0 100 101"><rect x="37.6" y="38" width="27.9" height="28.6" rx="1" fill="none" stroke="#8c8c8c" stroke-width="2"/>
<line x1="37.6" y1="45.5" x2="65.5" y2="45.5" stroke="#8c8c8c" stroke-width="2"/>
<line x1="43.8" y1="32.7" x2="43.8" y2="44" stroke="#8c8c8c" stroke-width="1.6"/>
<line x1="57.1" y1="32.7" x2="57.1" y2="44" stroke="#8c8c8c" stroke-width="1.6"/></svg>
<svg style="position:absolute;left:0;top:303px" width="100" height="101" viewBox="0 0 100 101"><path d="M50.5 39 C47 34.5 40.5 34 37 37.5 C33.5 41 34 47 38 51 L50.5 63.5 L63 51 C67 47 67.5 41 64 37.5 C60.5 34 54 34.5 50.5 39 Z" fill="none" stroke="#8c8c8c" stroke-width="1.7" stroke-linejoin="round"/></svg>
<svg style="position:absolute;left:0;top:404px" width="100" height="101" viewBox="0 0 100 101"><circle cx="50.5" cy="50" r="16.6" fill="none" stroke="#8c8c8c" stroke-width="1.7"/>
<line x1="39" y1="61.5" x2="62" y2="38.5" stroke="#8c8c8c" stroke-width="1.7"/></svg>
<svg style="position:absolute;left:0;top:505px" width="100" height="101" viewBox="0 0 100 101"><circle cx="50.5" cy="50.3" r="16.6" fill="none" stroke="#8c8c8c" stroke-width="1.7"/>
<ellipse cx="51" cy="49.2" rx="6" ry="6.6" fill="none" stroke="#8c8c8c" stroke-width="1.7"/>
<path d="M39.5 61.5 Q45 55.5 51 55.6 Q57 55.5 62.5 61.5" fill="none" stroke="#8c8c8c" stroke-width="1.7"/></svg>
<svg style="position:absolute;left:0;top:606px" width="100" height="101" viewBox="0 0 100 101"><g stroke="#8c8c8c" stroke-width="2" fill="#fff">
<line x1="32.5" y1="38" x2="68" y2="38"/><line x1="32.5" y1="50.3" x2="68" y2="50.3"/><line x1="32.5" y1="62.5" x2="68" y2="62.5"/>
<circle cx="58.2" cy="38" r="3.8"/><circle cx="42.7" cy="50.3" r="3.8"/><circle cx="58.2" cy="62.5" r="3.8"/></g></svg>
<svg style="position:absolute;left:0;top:707px" width="100" height="101" viewBox="0 0 100 101"><g stroke="#8c8c8c" stroke-width="1.8" fill="none">
<rect x="45.5" y="33.9" width="10.5" height="10.6"/>
<line x1="50.7" y1="44.5" x2="50.7" y2="50"/>
<path d="M40 55.7 V50 H61.5 V55.7"/>
<rect x="33.9" y="56.6" width="12.2" height="9.9"/><rect x="57.1" y="56.6" width="10" height="9.9"/></g></svg>
<svg style="position:absolute;left:0;top:808px" width="100" height="101" viewBox="0 0 100 101"><g stroke="#0b0b0b" stroke-width="2.6" fill="#fff">
<line x1="33" y1="38.7" x2="67.8" y2="38.7"/><line x1="33" y1="50.9" x2="67.8" y2="50.9"/><line x1="33" y1="62.5" x2="67.8" y2="62.5"/>
<circle cx="58" cy="38.7" r="4"/><circle cx="42.9" cy="50.9" r="4"/><circle cx="58" cy="62.5" r="4"/></g></svg>
<div style="position:absolute;left:2px;top:809.5px;width:4px;height:101px;background:#4fe0bd"></div>
</div></div></div><svg style="position:absolute;left:1852.0px;top:15.0px" width="56" height="50" viewBox="-28 -25 56 50">
<g stroke="#1b1b1b" stroke-width="2" fill="#f2365c">
<ellipse rx="24" ry="8.5" transform="rotate(0)"/>
<ellipse rx="24" ry="8.5" transform="rotate(60)"/>
<ellipse rx="24" ry="8.5" transform="rotate(120)"/>
</g>
<g fill="#f2365c" stroke="none">
<ellipse rx="22.5" ry="7" transform="rotate(0)"/>
<ellipse rx="22.5" ry="7" transform="rotate(60)"/>
</g>
<ellipse rx="23.5" ry="8" transform="rotate(120)" fill="none" stroke="#1b1b1b" stroke-width="1.2" opacity="0.7"/>
<polygon points="8,0 4,6.9 -4,6.9 -8,0 -4,-6.9 4,-6.9" fill="#c9cf78" stroke="#222" stroke-width="1.5"/>
<circle r="4.2" fill="none" stroke="#2d5d1a" stroke-width="2"/>
<circle r="1.6" fill="#2d5d1a"/>
</svg><svg style="position:absolute;left:1849.5px;top:947.0px" width="56" height="50" viewBox="-28 -25 56 50">
<g stroke="#1b1b1b" stroke-width="2" fill="#f2365c">
<ellipse rx="24" ry="8.5" transform="rotate(0)"/>
<ellipse rx="24" ry="8.5" transform="rotate(60)"/>
<ellipse rx="24" ry="8.5" transform="rotate(120)"/>
</g>
<g fill="#f2365c" stroke="none">
<ellipse rx="22.5" ry="7" transform="rotate(0)"/>
<ellipse rx="22.5" ry="7" transform="rotate(60)"/>
</g>
<ellipse rx="23.5" ry="8" transform="rotate(120)" fill="none" stroke="#1b1b1b" stroke-width="1.2" opacity="0.7"/>
<polygon points="8,0 4,6.9 -4,6.9 -8,0 -4,-6.9 4,-6.9" fill="#c9cf78" stroke="#222" stroke-width="1.5"/>
<circle r="4.2" fill="none" stroke="#2d5d1a" stroke-width="2"/>
<circle r="1.6" fill="#2d5d1a"/>
</svg><svg style="position:absolute;left:1903px;top:4px" width="14" height="12" viewBox="0 0 14 12"><path d="M2.5 8.5 L7 3.5 L11.5 8.5" fill="none" stroke="#555" stroke-width="2"/></svg>
<svg style="position:absolute;left:1902px;top:2011px" width="14" height="12" viewBox="0 0 14 12"><path d="M2.5 3.5 L7 8.5 L11.5 3.5" fill="none" stroke="#555" stroke-width="2"/></svg>
<div class="ln" style="left:0;top:0;width:1920px;height:1px;background:#676b6f"></div>
<div class="ln" style="left:0;top:0;width:2px;height:2030px;background:#101010"></div>
<div class="ln" style="left:1918px;top:0;width:2px;height:2030px;background:#1a1a1a"></div>
<div class="ln" style="left:0;top:2028px;width:1920px;height:2px;background:#555"></div>
<div class="ln" style="left:0;top:932px;width:1920px;height:2px;background:#5a5c5e"></div>
<div class="ln" style="left:0;top:1863px;width:1920px;height:2px;background:#2a2a2a"></div>
</body></html>
